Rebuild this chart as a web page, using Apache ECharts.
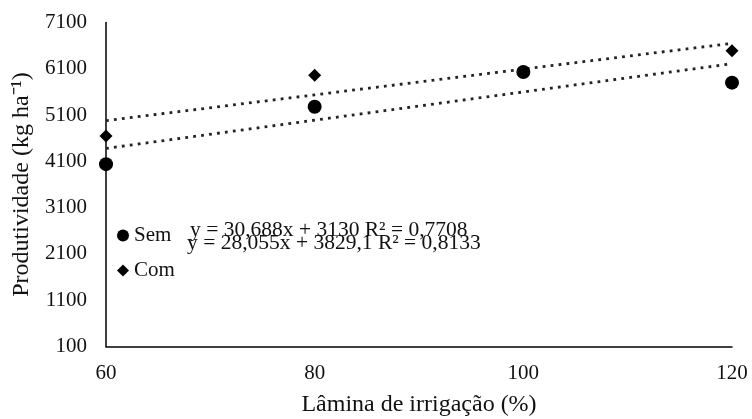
<!DOCTYPE html>
<html><head><meta charset="utf-8">
<script src="https://cdn.jsdelivr.net/npm/echarts@6/dist/echarts.min.js"></script>
<style>html,body{margin:0;padding:0;background:#fff}#c{width:752px;height:419px}</style>
</head><body><div id="c"></div>
<script>
const xTicks = [60, 80, 100, 120];
const yTicks = [100, 1100, 2100, 3100, 4100, 5100, 6100, 7100];
const lamina = [60, 80, 100, 120];
const semValues = [4040, 5280, 6030, 5800];
const comValues = [4650, 5960, 6030, 6490];
const trendSemX = [60, 120];
const trendSemY = [4380, 6210];
const trendComX = [60, 120];
const trendComY = [4980, 6650];
const eqSem = 'y = 30,688x + 3130 R² = 0,7708';
const eqCom = 'y = 28,055x + 3829,1 R² = 0,8133';

const font = 'Liberation Serif';
const pair = (xs, ys) => xs.map((x, i) => [x, ys[i]]);
const chart = echarts.init(document.getElementById('c'), null, {renderer: 'canvas'});
const dotted = {color: '#222', width: 2.8, type: [2.8, 5.2], cap: 'butt', opacity: 1};
chart.setOption({
  animation: false,
  backgroundColor: '#fff',
  grid: {left: 106, right: 20, top: 22.5, bottom: 72.5, containLabel: false, outerBoundsMode: 'none'},
  xAxis: {
    type: 'value', min: 60, max: 120, interval: 20,
    name: 'Lâmina de irrigação (%)', nameLocation: 'middle', nameGap: 46,
    nameTextStyle: {fontFamily: font, fontSize: 24, color: '#111'},
    axisLine: {show: true, lineStyle: {color: '#000', width: 1.5}},
    axisTick: {show: false},
    splitLine: {show: false},
    axisLabel: {customValues: xTicks, formatter: v => String(v), fontFamily: font, fontSize: 21, color: '#111', margin: 16}
  },
  yAxis: {
    type: 'value', min: 100, max: 7100,
    name: 'Produtividade (kg ha⁻¹)', nameLocation: 'middle', nameGap: 66,
    nameTextStyle: {fontFamily: font, fontSize: 24, color: '#111'},
    axisLine: {show: true, lineStyle: {color: '#000', width: 1.5}},
    axisTick: {show: false},
    splitLine: {show: false},
    axisLabel: {customValues: yTicks, formatter: v => String(v), fontFamily: font, fontSize: 21, color: '#111', margin: 19}
  },
  legend: {
    show: true, orient: 'vertical', left: 112, top: 220,
    itemWidth: 12, itemHeight: 12, itemGap: 14,
    textStyle: {fontFamily: font, fontSize: 21, color: '#111', padding: [0, 0, 0, 0]},
    data: [{name: 'Sem', icon: 'circle', itemStyle: {color: '#000', opacity: 1}}, {name: 'Com', icon: 'diamond', itemStyle: {color: '#000', opacity: 1}}]
  },
  series: [
    {name: 'trendCom', type: 'line', data: pair(trendComX, trendComY), showSymbol: false, symbol: 'none', lineStyle: dotted, z: 1, silent: true},
    {name: 'trendSem', type: 'line', data: pair(trendSemX, trendSemY), showSymbol: false, symbol: 'none', lineStyle: dotted, z: 1, silent: true},
    {name: 'Sem', type: 'scatter', symbol: 'circle', symbolSize: 14, data: pair(lamina, semValues), itemStyle: {color: '#000', opacity: 1}, z: 3},
    {name: 'Com', type: 'scatter', symbol: 'diamond', symbolSize: 13, data: pair(lamina, comValues), itemStyle: {color: '#000', opacity: 1}, z: 4}
  ],
  graphic: [
    {type: 'text', left: 190, top: 219, style: {text: eqSem, font: '21.5px "Liberation Serif"', fill: '#111'}},
    {type: 'text', left: 187, top: 232, style: {text: eqCom, font: '21.5px "Liberation Serif"', fill: '#111'}}
  ]
});
</script></body></html>
